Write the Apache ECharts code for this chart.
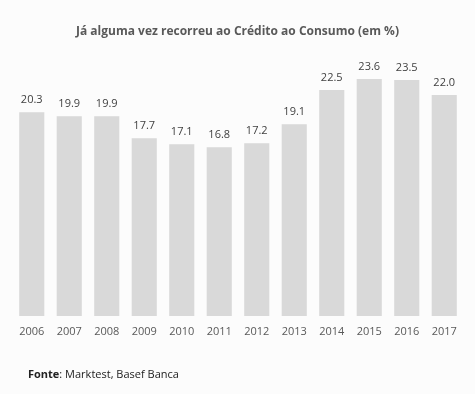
<!DOCTYPE html>
<html><head><meta charset="utf-8">
<script src="https://cdn.jsdelivr.net/npm/echarts@6/dist/echarts.min.js"></script>
<style>html,body{margin:0;padding:0;background:#fcfcfc;}#c{width:475px;height:394px;}</style>
</head><body><div id="c"></div>
<script>
const categories = ['2006','2007','2008','2009','2010','2011','2012','2013','2014','2015','2016','2017'];
const values = [20.3, 19.9, 19.9, 17.7, 17.1, 16.8, 17.2, 19.1, 22.5, 23.6, 23.5, 22.0];
const titleText = 'Já alguma vez recorreu ao Crédito ao Consumo (em %)';
const chart = echarts.init(document.getElementById('c'));
const F = 'Open Sans';
chart.setOption({
  backgroundColor: '#fcfcfc',
  animation: false,
  title: [{
    text: titleText, left: 'center', top: 21,
    textStyle: {fontFamily: F, fontSize: 12, fontWeight: 'bold', color: '#595959'}
  }, {
    text: '{b|Fonte}: Marktest, Basef Banca', left: 23, top: 364,
    textStyle: {fontFamily: F, fontSize: 11, fontWeight: 'normal', color: '#222',
      rich: {b: {fontFamily: F, fontSize: 11, fontWeight: 'bold', color: '#222'}}}
  }],
  grid: {left: 13, right: 12, top: 65, bottom: 78},
  xAxis: {
    type: 'category', data: categories,
    axisLine: {show: false}, axisTick: {show: false},
    axisLabel: {fontFamily: F, fontSize: 11, color: '#595959', margin: 10}
  },
  yAxis: {type: 'value', min: 0, max: 25, show: false, splitLine: {show: false}},
  series: [{
    type: 'bar', data: values, barCategoryGap: '33%',
    itemStyle: {color: '#d9d9d9'},
    label: {show: true, position: 'top', distance: 7, fontFamily: F, fontSize: 11, color: '#404040',
      formatter: p => p.value.toFixed(1)}
  }]
});
</script></body></html>
